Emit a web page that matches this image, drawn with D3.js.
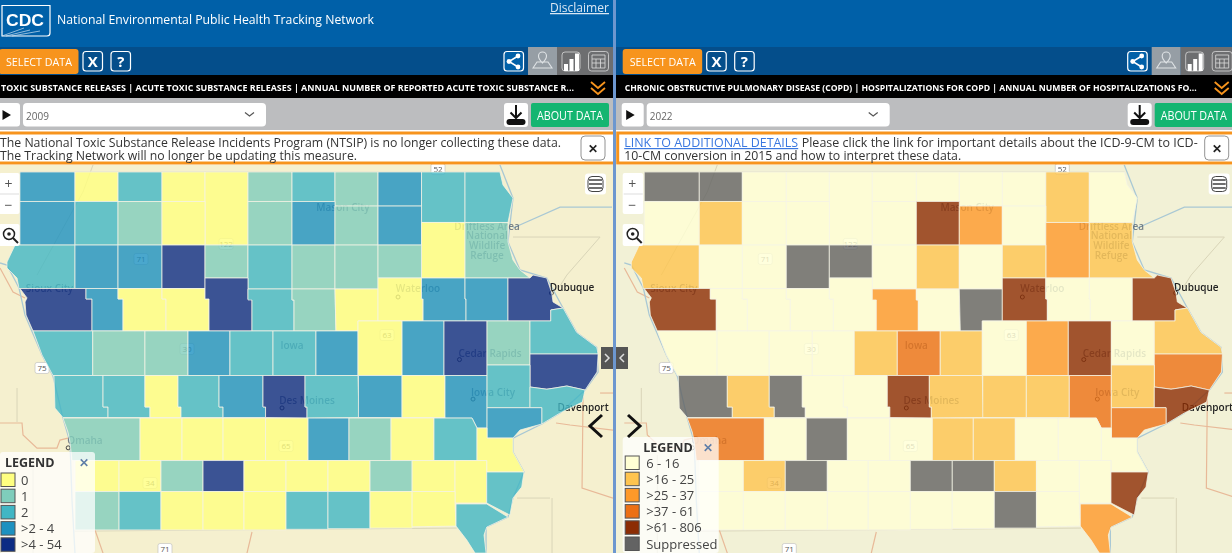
<!DOCTYPE html>
<html>
<head>
<meta charset="utf-8">
<title>National Environmental Public Health Tracking Network</title>
<script src="https://cdn.jsdelivr.net/npm/d3@7"></script>
<style>
	html, body { margin: 0; padding: 0; background: #fff; overflow: hidden; }
	text { font-family: "Open Sans", sans-serif; }
	svg { filter: blur(.35px); }
</style>
</head>
<body>
<div id="g"></div>
<script>
// county rings are [lon, lat]
const box = (w, n, e, s) => [[w, n], [e, n], [e, s], [w, s]]

const countyNames = [
	'Lyon', 'Osceola', 'Dickinson', 'Emmet', 'Kossuth', 'Winnebago', 'Worth', 'Mitchell', 'Howard', 'Winneshiek', 'Allamakee',
	'Sioux', "O'Brien", 'Clay', 'Palo Alto', 'Hancock', 'Cerro Gordo', 'Floyd', 'Chickasaw', 'Fayette', 'Clayton',
	'Plymouth', 'Cherokee', 'Buena Vista', 'Pocahontas', 'Humboldt', 'Wright', 'Franklin', 'Butler', 'Bremer',
	'Woodbury', 'Ida', 'Sac', 'Calhoun', 'Webster', 'Hamilton', 'Hardin', 'Grundy', 'Black Hawk', 'Buchanan', 'Delaware', 'Dubuque',
	'Monona', 'Crawford', 'Carroll', 'Greene', 'Boone', 'Story', 'Marshall', 'Tama', 'Benton', 'Linn', 'Jones', 'Jackson', 'Clinton',
	'Harrison', 'Shelby', 'Audubon', 'Guthrie', 'Dallas', 'Polk', 'Jasper', 'Poweshiek', 'Iowa', 'Johnson', 'Cedar', 'Scott', 'Muscatine',
	'Pottawattamie', 'Cass', 'Adair', 'Madison', 'Warren', 'Marion', 'Mahaska', 'Keokuk', 'Washington', 'Louisa',
	'Mills', 'Montgomery', 'Adams', 'Union', 'Clarke', 'Lucas', 'Monroe', 'Wapello', 'Jefferson', 'Henry', 'Des Moines',
	'Fremont', 'Page', 'Taylor', 'Ringgold', 'Decatur', 'Wayne', 'Appanoose', 'Davis', 'Van Buren', 'Lee'
]

// legend class of each county, same order as countyNames
const toxicClass = [
	3, 0, 2, 0, 0, 1, 2, 1, 3, 2, 2,
	3, 2, 1, 0, 1, 3, 1, 3, 0, 1,
	2, 3, 3, 4, 1, 2, 1, 1, 1,
	4, 3, 0, 0, 4, 2, 1, 0, 0, 3, 3, 4,
	2, 1, 1, 3, 2, 2, 3, 0, 3, 4, 1, 2, 4,
	2, 2, 0, 2, 3, 4, 2, 3, 0, 3, 2, 2, 3,
	1, 0, 0, 0, 0, 3, 1, 0, 2, 0,
	0, 0, 1, 4, 0, 0, 0, 1, 0, 0, 2,
	1, 2, 0, 0, 0, 2, 2, 0, 0, 2
]
const copdClass = [
	5, 5, 0, 0, 0, 0, 0, 0, 0, 1, 0,
	0, 1, 0, 0, 0, 4, 2, 0, 2, 1,
	1, 0, 0, 5, 5, 0, 1, 0, 1,
	4, 0, 0, 0, 0, 2, 0, 5, 4, 0, 0, 4,
	0, 0, 0, 0, 1, 3, 1, 0, 2, 4, 0, 1, 3,
	5, 1, 5, 0, 0, 4, 1, 1, 1, 3, 1, 4, 3,
	3, 0, 5, 0, 0, 1, 1, 0, 0, 0,
	0, 1, 5, 0, 0, 5, 5, 1, 0, 0, 4,
	0, 0, 0, 0, 0, 0, 0, 5, 0, 2
]

const countyRings = [
	// row 1
	box(-96.5, 43.5, -95.895, 43.261),
	box(-95.895, 43.5, -95.422, 43.261),
	box(-95.422, 43.5, -94.939, 43.261),
	box(-94.939, 43.5, -94.466, 43.261),
	box(-94.466, 43.5, -93.994, 42.908),
	box(-93.994, 43.5, -93.51, 43.261),
	box(-93.51, 43.5, -93.038, 43.261),
	box(-93.038, 43.5, -92.565, 43.224),
	box(-92.565, 43.5, -92.087, 43.224),
	box(-92.087, 43.5, -91.609, 43.091),
	[[-91.609, 43.5], [-91.225, 43.5], [-91.192, 43.395], [-91.082, 43.289], [-91.137, 43.091], [-91.609, 43.091]],
	// row 2
	box(-96.5, 43.261, -95.895, 42.908),
	box(-95.895, 43.261, -95.422, 42.908),
	box(-95.422, 43.261, -94.939, 42.908),
	box(-94.939, 43.261, -94.466, 42.908),
	box(-93.994, 43.261, -93.51, 42.908),
	box(-93.51, 43.261, -93.038, 42.908),
	box(-93.038, 43.224, -92.565, 42.908),
	box(-92.565, 43.224, -92.087, 42.908),
	box(-92.087, 43.091, -91.609, 42.641),
	[[-91.609, 43.091], [-91.137, 43.091], [-91.137, 42.933], [-91.082, 42.787], [-91.005, 42.706], [-90.895, 42.641], [-91.609, 42.641]],
	// row 3
	[[-95.895, 42.908], [-96.554, 42.908], [-96.642, 42.771], [-96.642, 42.722], [-96.532, 42.641], [-96.51, 42.556], [-95.895, 42.556]],
	box(-95.895, 42.908, -95.422, 42.556),
	box(-95.422, 42.908, -94.939, 42.556),
	box(-94.939, 42.908, -94.466, 42.556),
	box(-94.466, 42.908, -93.994, 42.641),
	box(-93.994, 42.908, -93.51, 42.552),
	box(-93.51, 42.908, -93.038, 42.552),
	box(-93.038, 42.908, -92.565, 42.552),
	box(-92.565, 42.908, -92.087, 42.641),
	// row 4
	[[-96.5, 42.556], [-95.774, 42.556], [-95.774, 42.471], [-95.708, 42.471], [-95.708, 42.212], [-96.356, 42.212], [-96.433, 42.341], [-96.444, 42.447], [-96.422, 42.48]],
	[[-95.774, 42.556], [-95.422, 42.556], [-95.422, 42.471], [-95.367, 42.471], [-95.367, 42.212], [-95.708, 42.212], [-95.708, 42.471], [-95.774, 42.471]],
	[[-95.422, 42.556], [-94.939, 42.556], [-94.939, 42.471], [-94.895, 42.471], [-94.895, 42.212], [-95.367, 42.212], [-95.367, 42.471], [-95.422, 42.471]],
	[[-94.939, 42.556], [-94.466, 42.556], [-94.466, 42.471], [-94.422, 42.471], [-94.422, 42.212], [-94.895, 42.212], [-94.895, 42.471], [-94.939, 42.471]],
	[[-94.466, 42.641], [-93.994, 42.641], [-93.994, 42.471], [-93.95, 42.471], [-93.95, 42.212], [-94.422, 42.212], [-94.422, 42.471], [-94.466, 42.471]],
	[[-93.994, 42.552], [-93.51, 42.552], [-93.51, 42.463], [-93.488, 42.463], [-93.488, 42.212], [-93.95, 42.212], [-93.95, 42.463], [-93.994, 42.463]],
	[[-93.51, 42.552], [-93.038, 42.552], [-93.027, 42.212], [-93.488, 42.212], [-93.488, 42.463], [-93.51, 42.463]],
	[[-93.038, 42.552], [-92.565, 42.552], [-92.565, 42.293], [-92.785, 42.293], [-92.785, 42.212], [-93.027, 42.212]],
	[[-92.565, 42.641], [-92.087, 42.641], [-92.087, 42.471], [-92.07, 42.471], [-92.07, 42.293], [-92.565, 42.293]],
	[[-92.087, 42.641], [-91.609, 42.641], [-91.609, 42.471], [-91.598, 42.471], [-91.598, 42.293], [-92.07, 42.293], [-92.07, 42.471], [-92.087, 42.471]],
	[[-91.609, 42.641], [-91.137, 42.641], [-91.137, 42.293], [-91.598, 42.293], [-91.598, 42.471], [-91.609, 42.471]],
	[[-91.137, 42.641], [-90.895, 42.641], [-90.862, 42.665], [-90.711, 42.641], [-90.656, 42.519], [-90.642, 42.447], [-90.532, 42.398], [-90.667, 42.382], [-90.667, 42.293], [-91.137, 42.293]],
	// row 5
	[[-96.356, 42.212], [-95.7, 42.212], [-95.7, 41.851], [-96.137, 41.851], [-96.257, 42.017]],
	box(-95.7, 42.212, -95.126, 41.851),
	box(-95.126, 42.212, -94.653, 41.851),
	box(-94.653, 42.212, -94.192, 41.851),
	box(-94.192, 42.212, -93.719, 41.851),
	box(-93.719, 42.212, -93.247, 41.851),
	box(-93.247, 42.212, -92.785, 41.851),
	box(-92.785, 42.293, -92.301, 41.851),
	box(-92.301, 42.293, -91.84, 41.851),
	box(-91.84, 42.293, -91.367, 41.851),
	box(-91.367, 42.293, -90.895, 41.936),
	[[-90.895, 42.293], [-90.667, 42.293], [-90.667, 42.382], [-90.532, 42.398], [-90.382, 42.2], [-90.162, 42.08], [-90.147, 42.025], [-90.895, 42.025]],
	[[-90.895, 42.025], [-90.147, 42.025], [-90.158, 41.879], [-90.29, 41.733], [-90.49, 41.766], [-90.62, 41.75], [-90.711, 41.74], [-90.895, 41.758]],
	// row 6
	[[-96.126, 41.851], [-95.587, 41.851], [-95.587, 41.596], [-95.532, 41.596], [-95.532, 41.51], [-96.027, 41.51], [-96.115, 41.587]],
	[[-95.587, 41.851], [-95.126, 41.851], [-95.126, 41.596], [-95.071, 41.596], [-95.071, 41.51], [-95.532, 41.51], [-95.532, 41.596], [-95.587, 41.596]],
	[[-95.126, 41.851], [-94.763, 41.851], [-94.763, 41.596], [-94.73, 41.596], [-94.73, 41.51], [-95.071, 41.51], [-95.071, 41.596], [-95.126, 41.596]],
	[[-94.763, 41.851], [-94.312, 41.851], [-94.312, 41.596], [-94.268, 41.596], [-94.268, 41.51], [-94.73, 41.51], [-94.73, 41.596], [-94.763, 41.596]],
	[[-94.312, 41.851], [-93.829, 41.851], [-93.829, 41.596], [-93.801, 41.596], [-93.801, 41.51], [-94.268, 41.51], [-94.268, 41.596], [-94.312, 41.596]],
	[[-93.829, 41.851], [-93.367, 41.851], [-93.367, 41.596], [-93.345, 41.596], [-93.345, 41.506], [-93.801, 41.51], [-93.801, 41.596], [-93.829, 41.596]],
	[[-93.367, 41.851], [-92.785, 41.851], [-92.774, 41.51], [-93.345, 41.506], [-93.345, 41.596], [-93.367, 41.596]],
	box(-92.78, 41.851, -92.301, 41.51),
	box(-92.301, 41.851, -91.829, 41.51),
	[[-91.829, 41.851], [-91.367, 41.851], [-91.367, 41.425], [-91.477, 41.425], [-91.532, 41.506], [-91.829, 41.506]],
	box(-91.367, 41.936, -90.895, 41.59),
	[[-90.895, 41.758], [-90.711, 41.74], [-90.62, 41.75], [-90.49, 41.766], [-90.29, 41.733], [-90.32, 41.636], [-90.565, 41.547], [-90.766, 41.458], [-90.766, 41.59], [-90.895, 41.59]],
	[[-91.367, 41.59], [-90.766, 41.59], [-90.766, 41.458], [-91.005, 41.409], [-91.082, 41.344], [-91.367, 41.344]],
	// row 7
	[[-96.027, 41.506], [-95.18, 41.506], [-95.18, 41.162], [-95.928, 41.162], [-95.95, 41.312], [-95.972, 41.393]],
	box(-95.18, 41.506, -94.719, 41.162),
	box(-94.719, 41.506, -94.268, 41.162),
	box(-94.268, 41.506, -93.801, 41.162),
	box(-93.801, 41.506, -93.334, 41.162),
	box(-93.334, 41.506, -92.884, 41.162),
	box(-92.884, 41.506, -92.422, 41.162),
	box(-92.422, 41.506, -91.95, 41.162),
	[[-91.95, 41.506], [-91.532, 41.506], [-91.477, 41.425], [-91.477, 41.162], [-91.95, 41.162]],
	[[-91.477, 41.425], [-91.367, 41.425], [-91.367, 41.344], [-91.082, 41.344], [-91.082, 41.231], [-90.961, 41.069], [-91.371, 41.069], [-91.371, 41.162], [-91.477, 41.162]],
	// row 8
	box(-95.895, 41.162, -95.411, 40.911),
	box(-95.411, 41.162, -94.95, 40.911),
	box(-94.95, 41.162, -94.488, 40.911),
	box(-94.488, 41.162, -94.038, 40.911),
	box(-94.038, 41.162, -93.576, 40.911),
	box(-93.576, 41.162, -93.115, 40.911),
	box(-93.115, 41.162, -92.653, 40.911),
	box(-92.653, 41.162, -92.19, 40.911),
	box(-92.19, 41.162, -91.719, 40.911),
	box(-91.719, 41.162, -91.371, 40.818),
	[[-91.371, 41.069], [-90.961, 41.069], [-90.986, 40.947], [-91.082, 40.858], [-91.115, 40.72], [-91.371, 40.818]],
	// row 9
	box(-95.895, 40.911, -95.411, 40.6),
	box(-95.411, 40.911, -94.95, 40.6),
	box(-94.95, 40.911, -94.488, 40.6),
	box(-94.488, 40.911, -94.038, 40.6),
	box(-94.038, 40.911, -93.576, 40.6),
	box(-93.576, 40.911, -93.115, 40.605),
	box(-93.115, 40.911, -92.653, 40.61),
	box(-92.653, 40.911, -92.19, 40.615),
	[[-92.19, 40.911], [-91.719, 40.911], [-91.719, 40.818], [-91.708, 40.631], [-92.19, 40.625]],
	[[-91.708, 40.81], [-91.371, 40.81], [-91.137, 40.704], [-91.371, 40.623], [-91.4, 40.558], [-91.378, 40.412], [-91.499, 40.412], [-91.59, 40.518], [-91.708, 40.631]]
]

// base map lines, [lon, lat]
const riverLines = [
	[[-96.719, 42.763], [-96.642, 42.746], [-96.51, 42.56], [-96.444, 42.341], [-96.257, 42.017], [-96.137, 41.847], [-96.027, 41.506], [-95.95, 41.312], [-95.928, 40.842], [-95.895, 40.412]],
	[[-91.225, 43.557], [-91.082, 43.289], [-91.137, 42.933], [-91.005, 42.706], [-90.711, 42.641], [-90.532, 42.398], [-90.382, 42.2], [-90.162, 42.08], [-90.147, 41.879], [-90.29, 41.733], [-90.565, 41.547], [-90.766, 41.458], [-91.082, 41.344], [-91.082, 41.231], [-90.961, 41.069], [-91.082, 40.858], [-91.137, 40.704], [-91.378, 40.623], [-91.378, 40.412]],
	[[-91.082, 43.046], [-90.565, 43.216], [-89.994, 43.216]]
]
const majorRoads = [
	[[-96.719, 41.466], [-96.477, 41.466], [-96.466, 41.369], [-96.312, 41.263], [-96.093, 41.263], [-96.06, 41.328], [-95.972, 41.344]],
	[[-96.719, 42.722], [-96.576, 42.528], [-96.444, 42.479]],
	[[-95.675, 40.599], [-95.587, 40.412]],
	[[-93.95, 40.583], [-94.005, 40.412]],
	[[-90.609, 41.466], [-90.455, 41.45], [-89.983, 41.409]],
	[[-90.312, 41.693], [-90.323, 40.939], [-89.983, 40.858]],
	[[-90.125, 41.709], [-89.983, 41.709]]
]
const minorRoads = [
	[[-95.697, 43.557], [-95.807, 43.338], [-96.312, 42.665]],
	[[-91.082, 42.973], [-90.125, 42.973], [-90.49, 42.665], [-90.58, 42.56]],
	[[-90.653, 40.858], [-90.653, 40.412]],
	[[-91.038, 40.858], [-90.675, 40.858]],
	[[-96.532, 41.75], [-96.532, 41.474]],
	[[-96.356, 41.207], [-96.356, 40.412]],
	[[-96.5, 43.5], [-91.225, 43.5]],
	[[-95.9, 40.59], [-91.7, 40.615]]
]

const cityLabels = ['Sioux City', 'Mason City', 'Waterloo', 'Driftless Area', 'National', 'Wildlife', 'Refuge', 'Dubuque', 'Cedar Rapids', 'Iowa City', 'Des Moines', 'Davenport', 'Omaha', 'Iowa']
const cityLon = [-96.175, -92.95, -92.126, -91.367, -91.367, -91.367, -91.367, -90.433, -91.334, -91.301, -93.345, -90.312, -95.785, -93.51]
const cityLat = [42.552, 43.216, 42.552, 43.062, 42.989, 42.908, 42.827, 42.568, 42.033, 41.717, 41.652, 41.588, 41.328, 42.098]
const cityDotLon = [-93.62, -91.521, -92.345, -90.66, -91.67, -95.97]
const cityDotLat = [41.588, 41.66, 42.487, 42.519, 41.98, 41.265]

const shieldLabels = ['75', '71', '122', '52', '63', '30', '65', '34', '71']
const shieldLon = [-96.257, -95.17, -94.235, -91.906, -92.466, -94.664, -93.576, -95.071, -94.906]
const shieldLat = [41.912, 42.795, 42.917, 43.524, 42.179, 42.066, 41.28, 40.98, 40.445]

const toxicLegend = ['0', '1', '2', '>2 - 4', '>4 - 54']
const toxicColors = ['#ffff80', '#7fcdbb', '#41b6c4', '#1d91c0', '#0c2c84']
const copdLegend = ['6 - 16', '>16 - 25', '>25 - 37', '>37 - 61', '>61 - 806', 'Suppressed']
const copdColors = ['#ffffd4', '#fec44f', '#fe9929', '#ec7014', '#8c2d04', '#636363']

const W = 1232, H = 553

const xScale = d3.scaleLinear().domain([-96.719, -89.95]).range([0, 616])
const yScale = d3.scaleLinear().domain([43.5, 40.6]).range([172, 529.9])
const linePath = d3.line().x(d => xScale(d[0])).y(d => yScale(d[1]))

const svg = d3.select('#g').append('svg').attr('width', W).attr('height', H).style('display', 'block')
const defs = svg.append('defs')
defs.append('clipPath').attr('id', 'clip-left').append('rect').attr('width', 613).attr('height', H)
defs.append('clipPath').attr('id', 'clip-right').append('rect').attr('x', 616).attr('width', 616).attr('height', H)

function label(g, x, y, str, size, fill, extra) {
	const t = g.append('text').attr('x', x).attr('y', y).attr('font-size', size).attr('fill', fill).text(str)
	if (extra) Object.keys(extra).forEach(k => t.attr(k, extra[k]))
	return t
}

function drawMap(g, classes, colors, baseColor) {
	g.append('rect').attr('y', 165).attr('x', -10).attr('width', 640).attr('height', 390).attr('fill', baseColor)
	g.append('g').selectAll('path').data(minorRoads).join('path')
		.attr('d', linePath).attr('fill', 'none').attr('stroke', '#d9d5b8').attr('stroke-width', 1)
	g.append('g').selectAll('path').data(majorRoads).join('path')
		.attr('d', linePath).attr('fill', 'none').attr('stroke', '#e8b998').attr('stroke-width', 1.2)
	g.append('g').selectAll('path').data(riverLines).join('path')
		.attr('d', linePath).attr('fill', 'none').attr('stroke', '#a9c8d4').attr('stroke-width', 1.3)
	g.append('g').selectAll('circle').data(cityDotLon).join('circle')
		.attr('cx', d => xScale(d)).attr('cy', (d, i) => yScale(cityDotLat[i])).attr('r', 2)
		.attr('fill', 'none').attr('stroke', '#444').attr('stroke-width', 1)

	const shields = g.append('g').selectAll('g').data(shieldLabels).join('g')
		.attr('transform', (d, i) => `translate(${xScale(shieldLon[i])},${yScale(shieldLat[i])})`)
	shields.append('rect').attr('x', -7).attr('y', -5.5).attr('width', 14).attr('height', 11).attr('rx', 2)
		.attr('fill', '#fff').attr('stroke', '#bbb').attr('stroke-width', .6)
	shields.append('text').attr('text-anchor', 'middle').attr('y', 3).attr('font-size', 8).attr('fill', '#555').text(d => d)

	g.append('g').selectAll('text').data(cityLabels).join('text')
		.attr('x', (d, i) => xScale(cityLon[i])).attr('y', (d, i) => yScale(cityLat[i]) + 3.5)
		.attr('text-anchor', 'middle').attr('font-size', 10).attr('font-weight', 600)
		.attr('fill', d => (d === 'Dubuque' || d === 'Davenport') ? '#222' : '#4d5b6c')
		.attr('fill-opacity', d => (d === 'Dubuque' || d === 'Davenport') ? 1 : .75)
		.text(d => d)

	g.append('g').selectAll('path').data(countyRings).join('path')
		.attr('d', d => linePath(d) + 'Z')
		.attr('fill', (d, i) => colors[classes[i]])
		.attr('fill-opacity', .8)
		.attr('stroke', '#f4f3e6').attr('stroke-width', 1).attr('stroke-opacity', .75)
		.append('title').text((d, i) => countyNames[i])
}

function drawControls(g, legendX, legendY, legendW, legendH, titleX, swatchX, textX, rowY, labels, colors, closeX) {
	// zoom box and locate button
	g.append('rect').attr('x', -1).attr('y', 173).attr('width', 20.5).attr('height', 41).attr('rx', 2).attr('fill', '#fff')
	g.append('line').attr('x1', 0).attr('x2', 19).attr('y1', 194).attr('y2', 194).attr('stroke', '#ddd')
	label(g, 8.5, 189, '+', 14, '#555', {'text-anchor': 'middle'})
	label(g, 8.5, 210, '−', 14, '#555', {'text-anchor': 'middle'})
	g.append('rect').attr('x', -1).attr('y', 224).attr('width', 20.5).attr('height', 22).attr('rx', 2).attr('fill', '#fff')
	g.append('circle').attr('cx', 9).attr('cy', 234).attr('r', 5.5).attr('fill', 'none').attr('stroke', '#222').attr('stroke-width', 1.5)
	g.append('circle').attr('cx', 9).attr('cy', 234).attr('r', 1.8).attr('fill', '#222')
	g.append('line').attr('x1', 13).attr('y1', 238).attr('x2', 18).attr('y2', 243).attr('stroke', '#222').attr('stroke-width', 2)

	// layer menu
	g.append('rect').attr('x', 585).attr('y', 173.5).attr('width', 21).attr('height', 21).attr('rx', 3).attr('fill', '#fff')
	g.append('rect').attr('x', 588).attr('y', 176.5).attr('width', 15).attr('height', 15).attr('rx', 4).attr('fill', 'none').attr('stroke', '#444')
	;[180, 184, 188].forEach(y => {
		g.append('line').attr('x1', 589).attr('x2', 602).attr('y1', y).attr('y2', y).attr('stroke', '#333').attr('stroke-width', 1.4)
	})

	// legend
	g.append('rect').attr('x', legendX).attr('y', legendY).attr('width', legendW).attr('height', legendH).attr('rx', 3).attr('fill', '#fff').attr('fill-opacity', .74)
	label(g, titleX, legendY + 15, 'LEGEND', 12.5, '#333', {'font-weight': 700})
	label(g, closeX, legendY + 15, '✕', 11.5, '#5f7ea8', {'text-anchor': 'middle', 'font-weight': 700})
	const rows = g.append('g').selectAll('g').data(labels).join('g')
		.attr('transform', (d, i) => `translate(0,${rowY + i * 16.2})`)
	rows.append('rect').attr('x', swatchX).attr('y', -7).attr('width', 14).attr('height', 13.5)
		.attr('fill', (d, i) => colors[i]).attr('stroke', '#555').attr('stroke-width', 1)
	rows.append('text').attr('x', textX).attr('y', 4.5).attr('font-size', 13).attr('fill', '#444').text(d => d)
}

function drawChrome(g, p) {
	g.append('rect').attr('x', -10).attr('width', 640).attr('height', 47).attr('fill', '#0060a8')
	g.append('rect').attr('x', -10).attr('y', 47).attr('width', 640).attr('height', 28).attr('fill', '#044e8b')
	g.append('rect').attr('x', -10).attr('y', 75).attr('width', 640).attr('height', 23).attr('fill', '#000')
	g.append('rect').attr('x', -10).attr('y', 98).attr('width', 640).attr('height', 32).attr('fill', '#bcbdbf')

	// toolbar
	g.append('rect').attr('y', 49).attr('x', -1).attr('width', 79.5).attr('height', 25).attr('rx', 3).attr('fill', '#f7941d')
	label(g, 39, 65.5, 'SELECT DATA', 11.5, '#fff', {'text-anchor': 'middle', textLength: 66, lengthAdjust: 'spacingAndGlyphs'})
	;[[83, 'X'], [111, '?']].forEach(b => {
		g.append('rect').attr('x', b[0]).attr('y', 51.5).attr('width', 19.5).attr('height', 19.5).attr('rx', 3)
			.attr('fill', 'none').attr('stroke', '#fff').attr('stroke-width', 1.2)
		label(g, b[0] + 9.75, 67, b[1], 15, '#fff', {'text-anchor': 'middle', 'font-weight': 700})
	})
	g.append('rect').attr('x', 504).attr('y', 51.5).attr('width', 19.5).attr('height', 19.5).attr('rx', 3)
		.attr('fill', '#0060a8').attr('stroke', '#fff').attr('stroke-width', 1.2)
	g.append('path').attr('d', 'M518 56L509 61.5L518 67').attr('fill', 'none').attr('stroke', '#fff').attr('stroke-width', 1.5)
	;[[518, 56], [509, 61.5], [518, 67]].forEach(c => g.append('circle').attr('cx', c[0]).attr('cy', c[1]).attr('r', 2.4).attr('fill', '#fff'))
	g.append('rect').attr('x', 528).attr('y', 47).attr('width', 29).attr('height', 28).attr('fill', '#969ea5')
	g.append('rect').attr('x', 557).attr('y', 47).attr('width', 60).attr('height', 28).attr('fill', '#6d6e70')
	g.append('path').attr('d', 'M533 68L537 62H548L552 68ZM542.5 52a4 4 0 0 1 4 4c0 3-4 7-4 7s-4-4-4-7a4 4 0 0 1 4-4Z')
		.attr('fill', 'none').attr('stroke', '#dfe3e6').attr('stroke-width', 1.1)
	g.append('rect').attr('x', 562).attr('y', 52).attr('width', 18).attr('height', 19).attr('rx', 3).attr('fill', 'none').attr('stroke', '#d8d8d8').attr('stroke-width', .8)
	g.append('path').attr('d', 'M564 71V64H568V71ZM569.5 71V59H573.5V71ZM575 71V53.5H579V71Z').attr('fill', '#fff')
	g.append('rect').attr('x', 588.5).attr('y', 51.5).attr('width', 20).attr('height', 19.5).attr('rx', 3).attr('fill', 'none').attr('stroke', '#d8d8d8').attr('stroke-width', .8)
	g.append('path').attr('d', 'M592 55H605V68H592ZM592 59H605M592 63H605M596 59V68M600.5 59V68')
		.attr('fill', 'none').attr('stroke', '#ddd').attr('stroke-width', .8)

	// title bar
	label(g, p.titleX, 91, p.title, 9.5, '#fff', {'font-weight': 700, textLength: p.titleW, lengthAdjust: 'spacingAndGlyphs'})
	g.append('path').attr('d', 'M591 82L598 88L605 82M591 88L598 94L605 88').attr('fill', 'none').attr('stroke', '#f7941d').attr('stroke-width', 1.8)

	// year row
	g.append('rect').attr('x', -2).attr('y', 103).attr('width', 22).attr('height', 23.5).attr('rx', 3).attr('fill', '#fff')
	g.append('path').attr('d', 'M2.5 110L11 115L2.5 120Z').attr('fill', '#111')
	g.append('rect').attr('x', 23).attr('y', 103).attr('width', 243).attr('height', 23.5).attr('rx', 4).attr('fill', '#fff')
	label(g, 26, 120, p.year, 10, '#666')
	g.append('path').attr('d', 'M245 112.5L249.5 116L254 112.5').attr('fill', 'none').attr('stroke', '#555').attr('stroke-width', 1.2)
	g.append('rect').attr('x', 504).attr('y', 103).attr('width', 24).attr('height', 24).attr('rx', 3).attr('fill', '#fff')
	g.append('path').attr('d', 'M516 105V118M510.5 112.5L516 118L521.5 112.5').attr('fill', 'none').attr('stroke', '#111').attr('stroke-width', 2)
	g.append('rect').attr('x', 506.5).attr('y', 119).attr('width', 19).attr('height', 6).attr('rx', 3).attr('fill', '#111')
	g.append('rect').attr('x', 531).attr('y', 103).attr('width', 78).attr('height', 24).attr('rx', 2).attr('fill', '#14b571')
	label(g, 570, 120, 'ABOUT DATA', 12, '#fff', {'text-anchor': 'middle', textLength: 66, lengthAdjust: 'spacingAndGlyphs'})

	// notice
	g.append('rect').attr('x', p.noticeX).attr('y', 133).attr('width', 640).attr('height', 30).attr('fill', '#fff').attr('stroke', '#f7941d').attr('stroke-width', 3)
	p.notice(g)
	g.append('rect').attr('x', 581).attr('y', 136).attr('width', 24).attr('height', 24).attr('rx', 4).attr('fill', '#fff').attr('stroke', '#777').attr('stroke-width', .8)
	label(g, 593, 153, '✕', 12, '#222', {'text-anchor': 'middle', 'font-weight': 700})
}

// left panel
const left = svg.append('g').attr('clip-path', 'url(#clip-left)')
drawMap(left.append('g'), toxicClass, toxicColors, '#f5f0cf')
drawControls(left.append('g'), 0, 452, 95, 101, 5, 1, 21, 480, toxicLegend, toxicColors, 84)
drawChrome(left.append('g'), {
	title: 'TOXIC SUBSTANCE RELEASES | ACUTE TOXIC SUBSTANCE RELEASES | ANNUAL NUMBER OF REPORTED ACUTE TOXIC SUBSTANCE R...',
	titleX: 1, titleW: 573, year: '2009', noticeX: -5,
	notice: g => {
		label(g, 0, 147, 'The National Toxic Substance Release Incidents Program (NTSIP) is no longer collecting these data.', 12, '#333', {textLength: 561, lengthAdjust: 'spacingAndGlyphs'})
		label(g, 0, 160, 'The Tracking Network will no longer be updating this measure.', 12, '#333', {textLength: 357, lengthAdjust: 'spacingAndGlyphs'})
	}
})

// right panel
const right = svg.append('g').attr('clip-path', 'url(#clip-right)')
const rightMap = right.append('g').attr('transform', 'translate(624.3,0)')
drawMap(rightMap, copdClass, copdColors, '#f2f1d6')
drawControls(right.append('g').attr('transform', 'translate(623.7,0)'), -1, 437, 96, 116, 19.5, 1.5, 22.5, 463, copdLegend, copdColors, 84.5)
drawChrome(right.append('g').attr('transform', 'translate(623.7,0)'), {
	title: 'CHRONIC OBSTRUCTIVE PULMONARY DISEASE (COPD) | HOSPITALIZATIONS FOR COPD | ANNUAL NUMBER OF HOSPITALIZATIONS FO...',
	titleX: 1, titleW: 572, year: '2022', noticeX: -6,
	notice: g => {
		label(g, 0.5, 147, 'LINK TO ADDITIONAL DETAILS', 12, '#3b78e0', {'text-decoration': 'underline', textLength: 174, lengthAdjust: 'spacingAndGlyphs'})
		label(g, 178, 147, 'Please click the link for important details about the ICD-9-CM to ICD-', 12, '#333', {textLength: 396, lengthAdjust: 'spacingAndGlyphs'})
		label(g, 0.5, 160, '10-CM conversion in 2015 and how to interpret these data.', 12, '#333', {textLength: 337, lengthAdjust: 'spacingAndGlyphs'})
	}
})

// page header, left side only
const logo = svg.append('g')
logo.append('path').attr('d', 'M2 5.5H50V33C50 35 49 36 47 36H2Z').attr('fill', 'none').attr('stroke', '#fff').attr('stroke-width', 1.2)
logo.append('path').attr('d', 'M2 36L24 28M6 36L30 30M12 36L40 31').attr('fill', 'none').attr('stroke', '#cfe2f2').attr('stroke-width', .7)
label(logo, 25, 26, 'CDC', 17, '#fff', {'text-anchor': 'middle', 'font-weight': 700, textLength: 38, lengthAdjust: 'spacingAndGlyphs', style: 'font-family:"Liberation Sans"'})
label(svg, 57, 24, 'National Environmental Public Health Tracking Network', 12.5, '#fff', {textLength: 317, lengthAdjust: 'spacingAndGlyphs'})
label(svg, 550, 12, 'Disclaimer', 12.5, '#d9e7f4', {'text-decoration': 'underline', textLength: 59, lengthAdjust: 'spacingAndGlyphs'})

// split divider and collapse arrows
svg.append('rect').attr('x', 613).attr('width', 3).attr('height', H).attr('fill', '#6d97cf')
svg.append('rect').attr('x', 601).attr('y', 347).attr('width', 12).attr('height', 22).attr('fill', '#555')
svg.append('rect').attr('x', 616).attr('y', 347).attr('width', 12).attr('height', 22).attr('fill', '#555')
svg.append('path').attr('d', 'M605 354L609 358L605 362').attr('fill', 'none').attr('stroke', '#ddd').attr('stroke-width', 1.5)
svg.append('path').attr('d', 'M624 354L620 358L624 362').attr('fill', 'none').attr('stroke', '#ddd').attr('stroke-width', 1.5)
svg.append('path').attr('d', 'M602 415L590 426L602 437').attr('fill', 'none').attr('stroke', '#111').attr('stroke-width', 3)
svg.append('path').attr('d', 'M628 415L640 426L628 437').attr('fill', 'none').attr('stroke', '#111').attr('stroke-width', 3)
</script>
</body>
</html>
